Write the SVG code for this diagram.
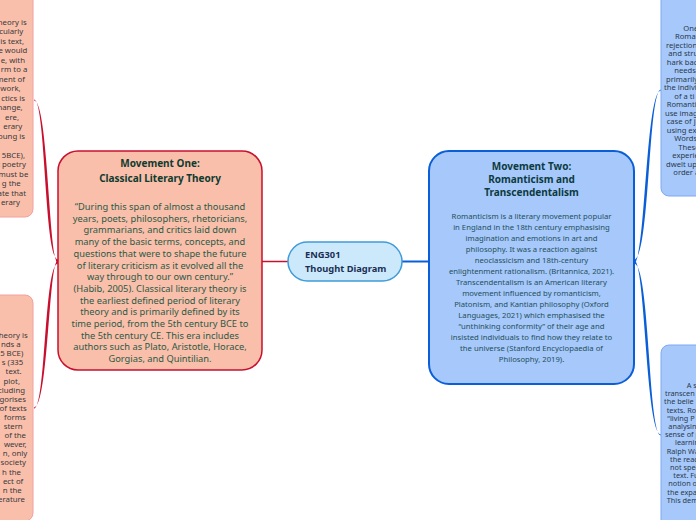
<svg xmlns="http://www.w3.org/2000/svg" width="696" height="520" viewBox="0 0 696 520">
<style>
.bg{fill:#ffffff}
.redbox{fill:#f9bfab;stroke:#c8102e;stroke-width:1.5}
.redsub{fill:#f9bfab;stroke:#f2a0a0;stroke-width:1}
.bluebox{fill:#a6c8fb;stroke:#0a5ed8;stroke-width:2}
.bluesub{fill:#a6c8fb;stroke:#7eaaf0;stroke-width:1}
.center{fill:#cce9fb;stroke:#3f9bd9;stroke-width:1.5}
.title{font-family:"Noto Sans","Liberation Sans",sans-serif;font-weight:bold;font-size:10px;text-anchor:middle}
.t1{fill:#0d3b2e}
.t2{fill:#0c3b40}
.body1{font-family:"Noto Sans","Liberation Sans",sans-serif;font-size:9.3px;fill:#2b5a45;text-anchor:middle}
.body2{font-family:"Noto Sans","Liberation Sans",sans-serif;font-size:7.7px;fill:#24505a;text-anchor:middle}
.sub{font-family:"Noto Sans","Liberation Sans",sans-serif;font-size:7.8px;fill:#3a3a3a}
.subr{font-family:"Noto Sans","Liberation Sans",sans-serif;font-size:7.6px;fill:#2a3a4a}
.subr2{font-family:"Noto Sans","Liberation Sans",sans-serif;font-size:7.3px;fill:#2a3a4a}
.ctext{font-family:"Noto Sans","Liberation Sans",sans-serif;font-size:9.3px;font-weight:bold;fill:#1b2f55}
.redc{fill:#c8102e}
.bluec{fill:#0a5ed8}
</style>
<rect class="bg" x="0" y="0" width="696" height="520"/>
<g id="connectors">
  <line x1="262" y1="261.5" x2="288" y2="261.5" stroke="#c8102e" stroke-width="1.5"/>
  <line x1="402" y1="261.5" x2="429" y2="261.5" stroke="#0a5ed8" stroke-width="2"/>
  <path class="redc" d="M58,263 C48.5,263 48.5,100.6 34,100.6 L34,99.4 C46,99.4 44,259.5 58,259.5 Z"/>
  <path class="redc" d="M58,260 C48.5,260 48.5,407.4 34,407.4 L34,408.6 C46,408.6 44,263.5 58,263.5 Z"/>
  <path class="bluec" d="M634,263 C645.5,263 645.5,90.6 661,90.6 L661,89.4 C648,89.4 650,259.5 634,259.5 Z"/>
  <path class="bluec" d="M634,260 C645.5,260 645.5,434.4 661,434.4 L661,435.6 C648,435.6 650,263.5 634,263.5 Z"/>
</g>
<g id="node-left-top">
  <rect class="redsub" x="-170" y="-17" width="203" height="234" rx="8"/>
  <g class="sub" text-anchor="end">
    <text x="26.7" y="24.7">heory is</text>
    <text x="23.3" y="34.2">cularly</text>
    <text x="24" y="43.7">is text,</text>
    <text x="27.3" y="53.2">e would</text>
    <text x="25" y="62.7">e, with</text>
    <text x="27.3" y="72.2">rm to a</text>
    <text x="25" y="81.7">ment of</text>
    <text x="20.7" y="91.2">work,</text>
    <text x="25" y="100.7">ctics is</text>
    <text x="22.7" y="110.2">hange,</text>
    <text x="19" y="119.7">ere,</text>
    <text x="22.3" y="129.2">erary</text>
    <text x="25" y="138.7">oung is</text>
    <text x="25" y="157.7">5BCE),</text>
    <text x="26" y="167.2">t poetry</text>
    <text x="28.3" y="176.7">must be</text>
    <text x="20.7" y="186.2">g the</text>
    <text x="26" y="195.7">ate that</text>
    <text x="20" y="205.2">erary</text>
  </g>
</g>
<g id="node-left-bottom">
  <rect class="redsub" x="-170" y="295" width="203" height="226" rx="8"/>
  <g class="sub" text-anchor="end">
    <text x="27.7" y="338">Theory is</text>
    <text x="20.7" y="347.1">nds a</text>
    <text x="23.3" y="356.2">5 BCE)</text>
    <text x="23.3" y="365.3">s (335</text>
    <text x="21.7" y="374.4">text.</text>
    <text x="20" y="383.5">plot,</text>
    <text x="25" y="392.6">cluding</text>
    <text x="26" y="401.7">gorises</text>
    <text x="26.7" y="410.8">of texts</text>
    <text x="25.7" y="419.9">forms</text>
    <text x="22.7" y="429">stern</text>
    <text x="26" y="438.1">of the</text>
    <text x="26.7" y="447.2">wever,</text>
    <text x="27.3" y="456.3">n, only</text>
    <text x="26" y="465.4">society</text>
    <text x="21" y="474.5">h the</text>
    <text x="23.3" y="483.6">ect of</text>
    <text x="21.7" y="492.7">n the</text>
    <text x="25" y="501.8">erature</text>
  </g>
</g>
<g id="node-movement-one">
  <rect class="redbox" x="58" y="151" width="204" height="219" rx="20"/>
  <text class="title t1" x="160" y="167">Movement One:</text>
  <text class="title t1" x="160" y="181.5">Classical Literary Theory</text>
  <g class="body1">
    <text x="160" y="210">“During this span of almost a thousand</text>
    <text x="160" y="221.7">years, poets, philosophers, rhetoricians,</text>
    <text x="160" y="233.4">grammarians, and critics laid down</text>
    <text x="160" y="245.1">many of the basic terms, concepts, and</text>
    <text x="160" y="256.8">questions that were to shape the future</text>
    <text x="160" y="268.5">of literary criticism as it evolved all the</text>
    <text x="160" y="280.2">way through to our own century.”</text>
    <text x="160" y="291.9">(Habib, 2005). Classical literary theory is</text>
    <text x="160" y="303.6">the earliest defined period of literary</text>
    <text x="160" y="315.3">theory and is primarily defined by its</text>
    <text x="160" y="327">time period, from the 5th century BCE to</text>
    <text x="160" y="338.7">the 5th century CE. This era includes</text>
    <text x="160" y="350.4">authors such as Plato, Aristotle, Horace,</text>
    <text x="160" y="362.1">Gorgias, and Quintilian.</text>
  </g>
</g>
<g id="node-center">
  <rect class="center" x="288" y="242" width="114" height="39" rx="19.5"/>
  <text class="ctext" x="305" y="257.5">ENG301</text>
  <text class="ctext" x="305" y="272">Thought Diagram</text>
</g>
<g id="node-movement-two">
  <rect class="bluebox" x="429" y="151" width="205" height="233" rx="20"/>
  <text class="title t2" x="531.5" y="170">Movement Two:</text>
  <text class="title t2" x="531.5" y="183">Romanticism and</text>
  <text class="title t2" x="531.5" y="196">Transcendentalism</text>
  <g class="body2">
    <text x="531.5" y="218.7">Romanticism is a literary movement popular</text>
    <text x="531.5" y="229.7">in England in the 18th century emphasising</text>
    <text x="531.5" y="240.7">imagination and emotions in art and</text>
    <text x="531.5" y="251.7">philosophy. It was a reaction against</text>
    <text x="531.5" y="262.7">neoclassicism and 18th-century</text>
    <text x="531.5" y="273.7">enlightenment rationalism. (Britannica, 2021).</text>
    <text x="531.5" y="284.7">Transcendentalism is an American literary</text>
    <text x="531.5" y="295.7">movement influenced by romanticism,</text>
    <text x="531.5" y="306.7">Platonism, and Kantian philosophy (Oxford</text>
    <text x="531.5" y="317.7">Languages, 2021) which emphasised the</text>
    <text x="531.5" y="328.7">“unthinking conformity” of their age and</text>
    <text x="531.5" y="339.7">insisted individuals to find how they relate to</text>
    <text x="531.5" y="350.7">the universe (Stanford Encyclopaedia of</text>
    <text x="531.5" y="361.7">Philosophy, 2019).</text>
  </g>
</g>
<g id="node-right-top">
  <rect class="bluesub" x="661" y="-16" width="200" height="212" rx="8"/>
  <g class="subr" text-anchor="start">
    <text x="683.3" y="30.5">One</text>
    <text x="675" y="39">Romant</text>
    <text x="666" y="47.5">rejection</text>
    <text x="668.3" y="56">and stru</text>
    <text x="666.7" y="64.5">hark bac</text>
    <text x="674.3" y="73">needs w</text>
    <text x="666" y="81.5">primarily</text>
    <text x="664" y="90">the indivi</text>
    <text x="674.3" y="98.5">of a ti</text>
    <text x="666.7" y="107">Romantic</text>
    <text x="665" y="115.5">use imag</text>
    <text x="666.7" y="124">case of j</text>
    <text x="666.7" y="132.5">using ext</text>
    <text x="674.3" y="141">Words</text>
    <text x="678.3" y="149.5">These</text>
    <text x="672.3" y="158">experie</text>
    <text x="666" y="166.5">dwelt upo</text>
    <text x="673.3" y="175">order a</text>
  </g>
</g>
<g id="node-right-bottom">
  <rect class="bluesub" x="661" y="345" width="200" height="185" rx="8"/>
  <g class="subr2" text-anchor="start">
    <text x="686.7" y="388">A s</text>
    <text x="665" y="396.2">transcen</text>
    <text x="664" y="404.4">the belie</text>
    <text x="666.7" y="412.6">texts. Ro</text>
    <text x="667.3" y="420.8">“living P</text>
    <text x="668.3" y="429">analysin</text>
    <text x="665" y="437.2">sense of p</text>
    <text x="675" y="445.4">learnin</text>
    <text x="666.7" y="453.6">Ralph Wa</text>
    <text x="670" y="461.8">the read</text>
    <text x="670" y="470">not spec</text>
    <text x="673.3" y="478.2">text. Fu</text>
    <text x="668.3" y="486.4">notion of</text>
    <text x="667.3" y="494.6">the expa</text>
    <text x="666.7" y="502.8">This dem</text>
  </g>
</g>
</svg>
